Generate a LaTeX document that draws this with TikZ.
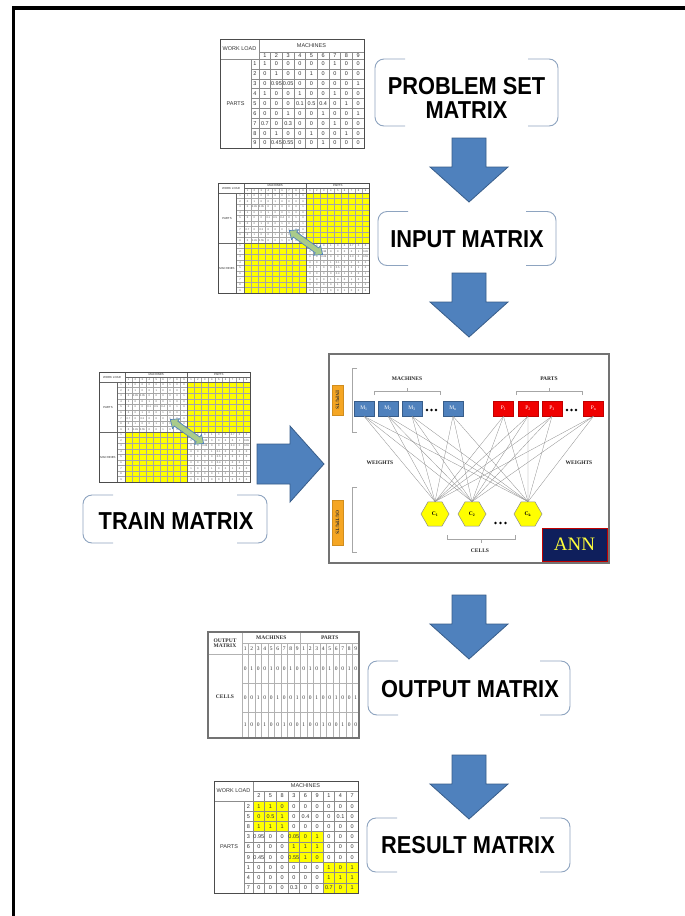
\documentclass[tikz,border=0pt]{standalone}
\usepackage{fontspec}
\setmainfont{Liberation Sans}
\newfontfamily\lsans{Liberation Sans}
\newfontfamily\lserif{Liberation Serif}
\newfontfamily\bigtxt[FakeStretch=0.89]{Liberation Sans}
\usetikzlibrary{shapes.geometric}
\newcommand{\fsz}[1]{\fontsize{#1}{#1}\selectfont}

\definecolor{arrblue}{HTML}{4F81BD}
\definecolor{arrblueD}{HTML}{385D8A}
\definecolor{brkcol}{HTML}{8EA4C0}
\definecolor{yel}{HTML}{FFFF00}
\definecolor{annorange}{HTML}{F5A623}
\definecolor{annnavy}{HTML}{0F1F5C}
\definecolor{annred}{HTML}{C00000}
\definecolor{pred}{HTML}{F00000}
\definecolor{annyel}{HTML}{FFFF3C}
\definecolor{dblgreen}{HTML}{A9CB8A}

\def\probdata{1/{1,0,0,0,0,0,1,0,0},2/{0,1,0,0,1,0,0,0,0},3/{0,0.95,0.05,0,0,0,0,0,1},%
4/{1,0,0,1,0,0,1,0,0},5/{0,0,0,0.1,0.5,0.4,0,1,0},6/{0,0,1,0,0,1,0,0,1},%
7/{0.7,0,0.3,0,0,0,1,0,0},8/{0,1,0,0,1,0,0,1,0},9/{0,0.45,0.55,0,0,1,0,0,0}}
\def\resdata{1/{1,1,0,0,0,0,0,0,0},2/{0,0.5,1,0,0.4,0,0,0.1,0},3/{1,1,1,0,0,0,0,0,0},%
4/{0.95,0,0,0.05,0,1,0,0,0},5/{0,0,0,1,1,1,0,0,0},6/{0.45,0,0,0.55,1,0,0,0,0},%
7/{0,0,0,0,0,0,1,0,1},8/{0,0,0,0,0,0,1,1,1},9/{0,0,0,0.3,0,0,0.7,0,1}}
\def\outdata{36.5/{0,1,0,0,1,0,0,1,0,0,1,0,0,1,0,0,1,0},65.5/{0,0,1,0,0,1,0,0,1,0,0,1,0,0,1,0,0,1},%
93/{1,0,0,1,0,0,1,0,0,1,0,0,1,0,0,1,0,0}}

\tikzset{
  frameline/.style={line width=3.5pt, line join=miter},
  bigarr/.style={fill=arrblue, draw=arrblueD, line width=0.8pt, line join=miter},
  brk/.style={draw=brkcol, line width=0.9pt, rounded corners=9pt},
  brkbox/.style={draw=none, inner sep=0pt, outer sep=0pt},
  bigtext/.style={font=\bigtxt\bfseries\fsz{24.5}, inner sep=0pt, align=center, text=black},
  pmline/.style={draw=black!45, line width=0.4pt},
  pmframe/.style={draw=black!70, line width=0.8pt},
  mtxt/.style={font=\lsans\fsz{5.5}, inner sep=0pt, text=black!80},
  bgline/.style={draw=black!35, line width=0.25pt},
  bgmid/.style={draw=black!60, line width=0.4pt},
  bgframe/.style={draw=black!70, line width=0.7pt},
  tinytxt/.style={font=\lsans\fsz{2.6}, inner sep=0pt, text=black!70},
  tinyhd/.style={font=\lsans\fsz{2.9}, inner sep=0pt, text=black!80},
  dblarr/.style={fill=dblgreen, draw=arrblue, line width=0.7pt},
  omline/.style={draw=black!30, line width=0.35pt},
  omframe/.style={draw=black!55, line width=1.2pt},
  otxt/.style={font=\lserif\fsz{5.5}, inner sep=0pt, text=black!80},
  otxtb/.style={font=\lserif\bfseries\fsz{5.5}, inner sep=0pt, text=black!80},
  annlab/.style={font=\lserif\bfseries\fsz{5.5}, inner sep=0pt, text=black!85},
  annbr/.style={draw=black!35, line width=0.5pt},
  orangelab/.style={fill=annorange, draw=annorange!85!black, line width=0.3pt, font=\lserif\bfseries\fsz{5}, text=black!80, inner sep=0pt, minimum height=11, rotate=-90},
  mbox/.style={rectangle, fill=arrblue, draw=arrblueD, line width=0.5pt, minimum width=20, minimum height=15, inner sep=0pt, font=\lserif\fsz{5.5}, text=white},
  pbox/.style={rectangle, fill=pred, draw=annred, line width=0.5pt, minimum width=20, minimum height=15, inner sep=0pt, font=\lserif\fsz{5.5}, text=white},
  hexa/.style={regular polygon, regular polygon sides=6, minimum size=28, inner sep=0pt, fill=yel, draw=black!45, line width=0.5pt, font=\lserif\bfseries\fsz{5.5}},
  wline/.style={draw=black!45, line width=0.3pt},
  downarr/.pic={\draw[bigarr] (-17,0) -- (17,0) -- (17,29) -- (39,29) -- (0,64) -- (-39,29) -- (-17,29) -- cycle;}
}

\newcommand{\bracketpair}[1]{%
  \draw[brk] ([xshift=30pt]#1.north west) -- (#1.north west) -- (#1.south west) -- ([xshift=30pt]#1.south west);
  \draw[brk] ([xshift=-30pt]#1.north east) -- (#1.north east) -- (#1.south east) -- ([xshift=-30pt]#1.south east);}

\newcommand{\bigmat}[3]{%
\begin{scope}[shift={(#2,#3)}]
 \fill[yel] (88.5,10) rectangle (151,60);
 \fill[yel] (26,60) rectangle (88.5,110);
 \foreach \i in {1,...,17} \draw[bgline] ({26+\i*125/18},5) -- ({26+\i*125/18},110);
 \foreach \j in {1,...,17} \draw[bgline] (18,{10+\j*100/18}) -- (151,{10+\j*100/18});
 \draw[bgmid] (26,0) -- (26,110) (18,10) -- (18,110) (0,10) -- (151,10) (26,5) -- (151,5) (0,60) -- (151,60) (88.5,0) -- (88.5,110);
 \draw[bgframe] (0,0) rectangle (151,110);
 \node[tinyhd] (#1-wl) at (13,5) {WORK LOAD};
 \node[tinyhd] (#1-mh) at (57.25,2.6) {MACHINES};
 \node[tinyhd] (#1-ph) at (119.75,2.6) {PARTS};
 \node[tinyhd] (#1-pl) at (9,35) {PARTS};
 \node[tinyhd] (#1-ml) at (9,85) {MACHINES};
 \foreach \i in {1,...,9} {
   \node[tinytxt] (#1-cm\i) at ({26+(\i-0.5)*125/18},7.6) {\i};
   \node[tinytxt] (#1-cp\i) at ({88.5+(\i-0.5)*125/18},7.6) {\i};
   \node[tinytxt] (#1-rp\i) at (22,{10+(\i-0.5)*100/18}) {\i};
   \node[tinytxt] (#1-rm\i) at (22,{60+(\i-0.5)*100/18}) {\i};
 }
 \foreach \r/\vals in \probdata {
   \foreach \v [count=\c] in \vals {
     \node[tinytxt] (#1-a\r-\c) at ({26+(\c-0.5)*125/18},{10+(\r-0.5)*100/18}) {\v};
     \node[tinytxt] (#1-b\c-\r) at ({88.5+(\r-0.5)*125/18},{60+(\c-0.5)*100/18}) {\v};
   }
 }
 \begin{scope}[shift={(88,59.5)}, rotate=-35.7]
   \draw[dblarr] (-20.5,0) -- (-13.5,6) -- (-13.5,3) -- (13.5,3) -- (13.5,6) -- (20.5,0) -- (13.5,-6) -- (13.5,-3) -- (-13.5,-3) -- (-13.5,-6) -- cycle;
 \end{scope}
\end{scope}}

\begin{document}
\begin{tikzpicture}[x=1pt,y=-1pt]
\useasboundingbox[fill=white] (0,0) rectangle (685,916);
\draw[frameline] (13.5,916) -- (13.5,8) -- (685,8);

% ---------- problem set matrix ----------
\begin{scope}[shift={(220,39)}]
 \foreach \i in {1,...,8} \draw[pmline] ({39+\i*105/9},13) -- ({39+\i*105/9},109);
 \foreach \j in {1,...,8} \draw[pmline] (31,{20+\j*89/9}) -- (144,{20+\j*89/9});
 \draw[pmline] (31,20) -- (31,109) (39,13) -- (144,13) (0,20) -- (144,20) (39,0) -- (39,109);
 \draw[pmframe] (0,0) rectangle (144,109);
 \node[mtxt] (pm-wl) at (19.5,10) {WORK LOAD};
 \node[mtxt] (pm-mach) at (91.5,6.5) {MACHINES};
 \node[mtxt] (pm-parts) at (15.5,64.5) {PARTS};
 \foreach \i in {1,...,9} {
   \node[mtxt] (pm-c\i) at ({39+(\i-0.5)*105/9},16.5) {\i};
   \node[mtxt] (pm-r\i) at (35,{20+(\i-0.5)*89/9}) {\i};
 }
 \foreach \r/\vals in \probdata {
   \foreach \v [count=\c] in \vals
     \node[mtxt] (pm-\r-\c) at ({39+(\c-0.5)*105/9},{20+(\r-0.5)*89/9}) {\v};
 }
\end{scope}

\node[brkbox, minimum width=183, minimum height=67] (pbrk) at (466.5,92.5) {};
\bracketpair{pbrk}
\node[bigtext] (ptxt) at (466.5,98) {PROBLEM SET\\MATRIX};
\pic at (469,138) {downarr};

% ---------- input matrix ----------
\bigmat{im}{218}{183}
\node[brkbox, minimum width=178, minimum height=54] (ibrk) at (467,238.5) {};
\bracketpair{ibrk}
\node[bigtext] (itxt) at (467,239) {INPUT MATRIX};
\pic at (469,273) {downarr};

% ---------- train matrix ----------
\bigmat{tm}{99}{372}
\node[brkbox, minimum width=184, minimum height=48] (tbrk) at (175,519) {};
\bracketpair{tbrk}
\node[bigtext] (ttxt) at (176,521) {TRAIN MATRIX};
\draw[bigarr] (257,444) -- (290,444) -- (290,426) -- (324,464) -- (290,502) -- (290,484) -- (257,484) -- cycle;

% ---------- ANN ----------
\node[draw=black!55, line width=1.2pt, minimum width=280, minimum height=209, inner sep=0pt] (annbox) at (469,458.5) {};
\node[orangelab, minimum width=30] (inp) at (337.5,400) {INPUTS};
\node[orangelab, minimum width=45] (outp) at (337.5,522.5) {OUTPUTS};
\draw[annbr] (357,368) -- (352,368) -- (352,432) -- (357,432);
\draw[annbr] (357,487) -- (352,487) -- (352,552) -- (357,552);
\node[annlab] (lmach) at (407,378.5) {MACHINES};
\node[annlab] (lparts) at (549,378.5) {PARTS};
\draw[annbr] (374,395) -- (374,391) -- (440,391) -- (440,395) (407,391) -- (407,387.5);
\draw[annbr] (516,395) -- (516,391) -- (582,391) -- (582,395) (549,391) -- (549,387.5);
\node[mbox] (m1) at (364,408.5) {M\textsubscript{1}};
\node[mbox] (m2) at (388,408.5) {M\textsubscript{2}};
\node[mbox] (m3) at (412,408.5) {M\textsubscript{3}};
\node[mbox] (mn) at (453,408.5) {M\textsubscript{n}};
\node[pbox] (p1) at (503.5,408.5) {P\textsubscript{1}};
\node[pbox] (p2) at (528,408.5) {P\textsubscript{2}};
\node[pbox] (p3) at (552,408.5) {P\textsubscript{3}};
\node[pbox] (pn) at (593.5,408.5) {P\textsubscript{n}};
\foreach \x in {427,431.5,436} \fill (\x,410) circle[radius=1.3pt];
\foreach \x in {567,571.5,576} \fill (\x,410) circle[radius=1.3pt];
\node[hexa] (c1) at (435,514) {C\textsubscript{1}};
\node[hexa] (c2) at (472,514) {C\textsubscript{2}};
\node[hexa] (ck) at (528,514) {C\textsubscript{k}};
\foreach \x in {495.5,500.5,505.5} \fill (\x,523) circle[radius=1.3pt];
\foreach \s in {m1,m2,m3,mn,p1,p2,p3,pn}
  \foreach \t in {c1,c2,ck}
    \draw[wline] (\s.south) -- (\t.north);
\node[annlab] (wl) at (380,463) {WEIGHTS};
\node[annlab] (wr) at (579,463) {WEIGHTS};
\draw[annbr] (447,535) -- (447,539) -- (515,539) -- (515,535) (481,539) -- (481,542.5);
\node[annlab] (lcells) at (480,550.5) {CELLS};
\node[fill=annnavy, draw=annred, line width=1pt, minimum width=65, minimum height=33, inner sep=0pt, font=\lserif\fsz{19}, text=annyel] (annlogo) at (574.5,544.5) {ANN};
\pic at (469,595) {downarr};

% ---------- output matrix ----------
\begin{scope}[shift={(208,632)}]
 \foreach \i in {1,...,17} \draw[omline] ({34+\i*6.5},11) -- ({34+\i*6.5},106);
 \draw[omline] (34,11) -- (151,11) (0,22) -- (151,22) (34,51) -- (151,51) (34,80) -- (151,80) (34,0) -- (34,106) (92.5,0) -- (92.5,106);
 \draw[omframe] (0,0) rectangle (151,106);
 \node[otxtb, align=center] (om-hd) at (17,11) {OUTPUT\\MATRIX};
 \node[otxtb] (om-mach) at (63.25,5.5) {MACHINES};
 \node[otxtb] (om-parts) at (121.75,5.5) {PARTS};
 \node[otxtb] (om-cells) at (17,65) {CELLS};
 \foreach \lab [count=\i] in {1,2,3,4,5,6,7,8,9,1,2,3,4,5,6,7,8,9}
   \node[otxt] (om-n\i) at ({34+(\i-0.5)*6.5},16.5) {\lab};
 \foreach \yy/\vals [count=\r] in \outdata {
   \foreach \v [count=\c] in \vals
     \node[otxt] (om-\r-\c) at ({34+(\c-0.5)*6.5},\yy) {\v};
 }
\end{scope}
\node[brkbox, minimum width=202, minimum height=54] (obrk) at (469,688) {};
\bracketpair{obrk}
\node[bigtext] (otxt) at (470,689) {OUTPUT MATRIX};
\pic at (469,755) {downarr};

% ---------- result matrix ----------
\begin{scope}[shift={(214,781)}]
 \foreach \b in {0,1,2} \fill[yel] ({39+\b*35},{20+\b*92/3}) rectangle ({39+(\b+1)*35},{20+(\b+1)*92/3});
 \foreach \i in {1,...,8} \draw[pmline] ({39+\i*105/9},10) -- ({39+\i*105/9},112);
 \foreach \j in {1,...,8} \draw[pmline] (30,{20+\j*92/9}) -- (144,{20+\j*92/9});
 \draw[pmline] (30,20) -- (30,112) (39,10) -- (144,10) (0,20) -- (144,20) (39,0) -- (39,112);
 \draw[pmframe] (0,0) rectangle (144,112);
 \node[mtxt] (rm-wl) at (19.5,10) {WORK LOAD};
 \node[mtxt] (rm-mach) at (91.5,5) {MACHINES};
 \node[mtxt] (rm-parts) at (15,66) {PARTS};
 \foreach \lab [count=\i] in {2,5,8,3,6,9,1,4,7} {
   \node[mtxt] (rm-c\i) at ({39+(\i-0.5)*105/9},15) {\lab};
   \node[mtxt] (rm-r\i) at (34.5,{20+(\i-0.5)*92/9}) {\lab};
 }
 \foreach \r/\vals in \resdata {
   \foreach \v [count=\c] in \vals
     \node[mtxt] (rm-\r-\c) at ({39+(\c-0.5)*105/9},{20+(\r-0.5)*92/9}) {\v};
 }
\end{scope}
\node[brkbox, minimum width=203, minimum height=54] (rbrk) at (468.5,845) {};
\bracketpair{rbrk}
\node[bigtext] (rtxt) at (468,845) {RESULT MATRIX};
\end{tikzpicture}
\end{document}
